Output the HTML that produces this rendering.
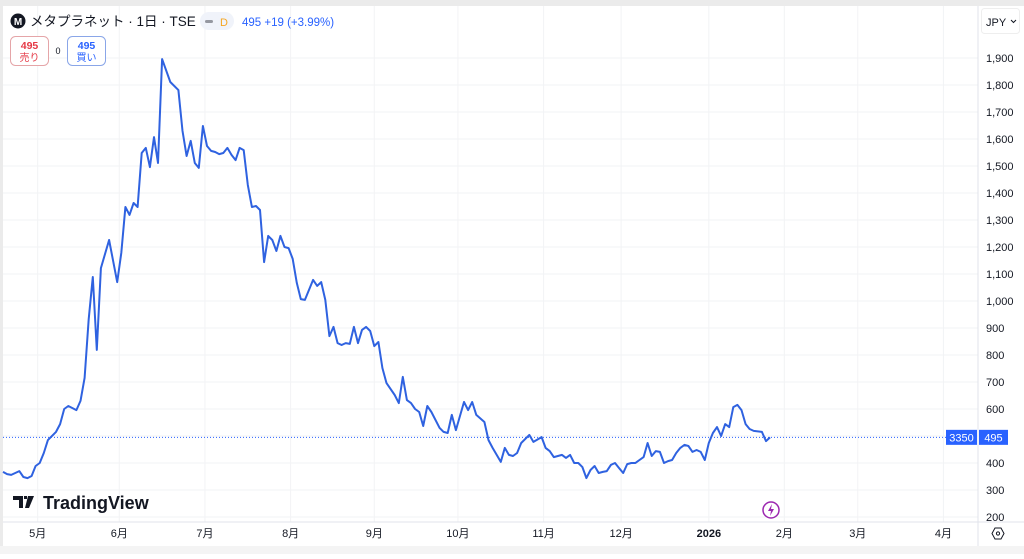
<!DOCTYPE html>
<html><head><meta charset="utf-8"><style>
body{margin:0;width:1024px;height:554px;overflow:hidden;background:#fff;font-family:"Liberation Sans","Noto Sans CJK JP",sans-serif;}
svg text{font-family:"Liberation Sans","Noto Sans CJK JP",sans-serif;}
</style></head><body>
<svg id="chart" width="1024" height="554" xmlns="http://www.w3.org/2000/svg">
<rect x="0" y="0" width="1024" height="554" fill="#fff"/>
<rect x="0" y="0" width="1024" height="6" fill="#ebebeb"/>
<rect x="0" y="0" width="3" height="554" fill="#ebebeb"/>
<g id="grid"></g>
<g id="yaxis"></g>
<g id="xaxis"></g>
<line x1="978" y1="6" x2="978" y2="554" stroke="#e0e3eb"/>
<line x1="3" y1="522" x2="1024" y2="522" stroke="#e0e3eb"/>
<rect x="0" y="546" width="1024" height="8" fill="#f4f4f4"/>
<line id="lastline" x1="3" x2="978" stroke="#2962ff" stroke-dasharray="1,2" stroke-width="1"/>
<path id="series" fill="none" stroke="#2f62e0" stroke-width="2" stroke-linejoin="round"/>
<g>
<circle cx="18" cy="21" r="7.5" fill="#131722"/>
<text x="18" y="25" font-size="10" font-weight="bold" fill="#fff" text-anchor="middle">M</text>
<text x="30" y="26" font-size="13.5" fill="#131722">メタプラネット · 1日 · TSE</text>
<rect x="200" y="12" width="34" height="18" rx="9" fill="#f0f3fa"/>
<rect x="205" y="20" width="8" height="3" rx="1.5" fill="#9598a1"/>
<text x="220" y="26" font-size="11" fill="#f5a623">D</text>
<text x="242" y="26" font-size="11.5" fill="#2962ff">495  +19 (+3.99%)</text>
</g>
<g>
<rect x="10.5" y="36.5" width="38" height="29" rx="5" fill="#fff" stroke="#e5a5a8"/>
<text x="29.5" y="49" font-size="10.5" font-weight="bold" fill="#e53946" text-anchor="middle">495</text>
<text x="29.5" y="61" font-size="10" fill="#e53946" text-anchor="middle">売り</text>
</g>
<text x="58" y="54" font-size="9" fill="#131722" text-anchor="middle">0</text>
<g>
<rect x="67.5" y="36.5" width="38" height="29" rx="5" fill="#fff" stroke="#8aa6e8"/>
<text x="86.5" y="49" font-size="10.5" font-weight="bold" fill="#2962ff" text-anchor="middle">495</text>
<text x="86.5" y="61" font-size="10" fill="#2962ff" text-anchor="middle">買い</text>
</g>
<g>
<rect x="981.5" y="8.5" width="38" height="25" rx="3" fill="#fff" stroke="#eee"/>
<text x="986" y="26" font-size="11" fill="#131722">JPY</text>
<path d="M1011 20 l2.5 2.5 l2.5 -2.5" fill="none" stroke="#131722" stroke-width="1"/>
</g>
<g>
<path d="M13 496 h10 v12 h-4 v-8 h-6z M24 496 h3 v3 h-3z M28 496 h6 l-5 12 h-4z" fill="#131722"/>
<text x="43" y="509" font-size="18" font-weight="bold" fill="#131722">TradingView</text>
</g>
<g>
<circle cx="771" cy="510" r="8" fill="#fff" stroke="#9c27b0" stroke-width="1.5"/>
<path d="M772 504 l-4 7 h3 l-1 5 l4 -7 h-3z" fill="#9c27b0"/>
</g>
<g id="lastlabel"></g>
<g>
<path d="M995 528 l6 0 l3 5.5 l-3 5.5 l-6 0 l-3 -5.5z" fill="none" stroke="#131722" stroke-width="1"/>
<circle cx="998" cy="533.5" r="1.6" fill="none" stroke="#131722" stroke-width="1"/>
</g>
</svg>
<script>
const days=[0,1,2,4,5,6,7,8,9,10,11,13,14,15,16,18,19,20,21,22,23,24,26,28,29,30,31,32,33,34,35,36,37,38,39,41,43,44,45,46,47,48,49,50,51,52,53,54,55,56,57,58,59,60,61,62,63,64,65,66,67,68,69,70,71,72,73,74,75,76,77,78,79,80,81,82,83,84,85,86,87,88,89,90,91,92,93,94,96,97,98,99,100,101,102,103,104,105,107,108,109,110,111,113,114,115,116,118,119,120,122,123,124,125,126,127,129,130,132,133,134,135,137,138,139,140,141,142,143,144,145,146,147,148,149,150,151,152,153,154,155,156,157,158,159,160,161,162,163,164,165,166,167,168,169,170,171,172,173,174,175,176,177,178,179,180,181,182,183,184,186,187,188];
const prices=[367,359,356,370,348,344,352,389,400,437,485,515,544,600,611,596,630,715,933,1089,819,1122,1226,1070,1178,1348,1319,1363,1348,1548,1567,1496,1607,1511,1896,1811,1781,1630,1537,1593,1511,1493,1648,1574,1556,1552,1544,1548,1567,1541,1522,1567,1559,1430,1348,1352,1337,1144,1241,1226,1185,1241,1200,1196,1156,1067,1007,1004,1041,1078,1056,1070,1004,870,904,844,837,844,841,904,844,893,904,889,833,848,752,696,652,622,719,633,622,600,589,537,611,589,530,515,511,578,522,626,596,626,578,552,485,456,404,456,430,426,437,474,504,478,496,456,444,422,430,419,430,400,400,385,344,374,389,363,367,370,393,400,381,363,396,400,400,411,422,474,426,444,441,400,407,411,437,456,467,463,441,448,441,411,474,511,533,500,544,533,607,615,596,544,526,519,515,481,495];
const yTicks=[200,300,400,500,600,700,800,900,1000,1100,1200,1300,1400,1500,1600,1700,1800,1900];
const monthLabels=["5月","6月","7月","8月","9月","10月","11月","12月","2026","2月","3月","4月"];
const monthDays=[8.5,28.5,49.5,70.5,91,111.5,132.5,151.5,173,191.5,209.5,230.5];
const lastPrice=495;
const barCount=3350;
const NS="http://www.w3.org/2000/svg";
function X(d){return 3+d*4.08;}
function Y(v){return 517-(v-200)*0.27;}
function mk(tag,attrs,parent){const e=document.createElementNS(NS,tag);for(const k in attrs)e.setAttribute(k,attrs[k]);parent.appendChild(e);return e;}
const grid=document.getElementById('grid'),ya=document.getElementById('yaxis'),xa=document.getElementById('xaxis');
yTicks.forEach(v=>{
 const l=mk('line',{x1:3,x2:978,y1:Y(v),y2:Y(v),stroke:'#f2f3f5'},grid);
 
 
 if(v===500)return;
 const t=mk('text',{x:986,y:Y(v)+4,'font-size':11,fill:'#131722'},ya);
 t.textContent=v.toLocaleString('en-US');
 
 
});
monthLabels.forEach((m,i)=>{
 const x=X(monthDays[i]);
 const l=mk('line',{x1:x,x2:x,y1:6,y2:522,stroke:'#f2f3f5'},grid);
 
 
 const t=mk('text',{x:x,y:537,'font-size':11,fill:'#131722','text-anchor':'middle','font-weight':m==='2026'?'bold':'normal'},xa);
 t.textContent=m;
 
 
});
let d='';
days.forEach((dd,i)=>{d+=(i?'L':'M')+X(dd).toFixed(1)+' '+Y(prices[i]).toFixed(1);});
document.getElementById('series').setAttribute('d',d);
const ll=document.getElementById('lastline');ll.setAttribute('y1',Y(lastPrice));ll.setAttribute('y2',Y(lastPrice));
const lg=document.getElementById('lastlabel');
const yl=Y(lastPrice);
mk('rect',{x:946,y:yl-7.5,width:31,height:15,fill:'#2962ff'},lg);
mk('rect',{x:979,y:yl-7.5,width:29,height:15,fill:'#2962ff'},lg);
const t1=mk('text',{x:961.5,y:yl+4,'font-size':11,fill:'#fff','text-anchor':'middle'},lg);t1.textContent=barCount;
const t2=mk('text',{x:993.5,y:yl+4,'font-size':11,fill:'#fff','text-anchor':'middle'},lg);t2.textContent=lastPrice;
</script>
</body></html>
